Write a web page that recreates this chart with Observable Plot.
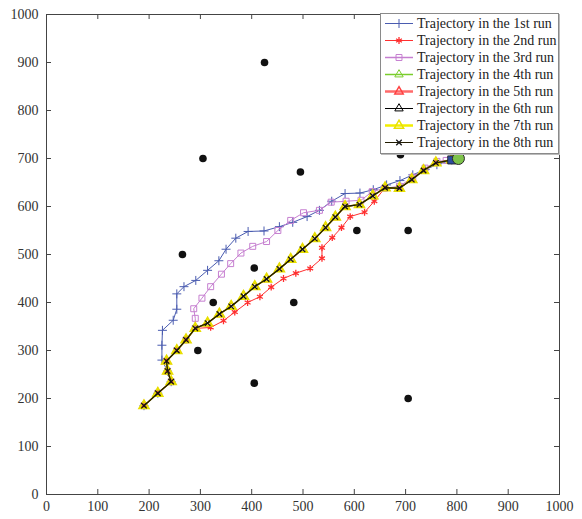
<!DOCTYPE html>
<html>
<head>
<meta charset="utf-8">
<script src="https://cdn.jsdelivr.net/npm/d3@7"></script>
<script src="https://cdn.jsdelivr.net/npm/@observablehq/plot@0.6"></script>
<style>
  html, body { margin: 0; padding: 0; background: #fff; }
  #wrap { position: relative; width: 582px; height: 519px; }
  #legend { position: absolute; left: 380px; top: 13px; width: 177px; background: #fff;
    border: 1px solid #8a8a8a; box-shadow: 1px 1px 0 #bbb; font-family: "Liberation Serif", "Times New Roman", "DejaVu Serif", serif;
    font-size: 14px; color: #222; padding: 1px 0 2px 0; }
  .row { display: flex; align-items: center; height: 17px; white-space: nowrap; }
  .row svg { margin-left: 3px; margin-right: 3px; flex: none; }
  svg.plot text { font-family: "Liberation Serif", "Times New Roman", "DejaVu Serif", serif; }
</style>
</head>
<body>
<div id="wrap"><div id="legend"></div></div>
<script>
// Axis ticks
const xTicks = [0, 100, 200, 300, 400, 500, 600, 700, 800, 900, 1000];
const yTicks = [0, 100, 200, 300, 400, 500, 600, 700, 800, 900, 1000];

// Obstacles
const obstacleX = [425, 305, 495, 690, 265, 605, 705, 405, 325, 482, 295, 405, 705];
const obstacleY = [900, 700, 672, 708, 500, 550, 550, 472, 400, 400, 300, 232, 200];

// Goal and end marker
const goalX = [803], goalY = [700];
const endX = [790], endY = [697];

// Trajectories
const run1X = [190,217,243,236,225,225,226,247,254,254,268,291,314,336,350,369,393,424,454,480,508,532,556,582,611,637,663,689,714,738,761,790];
const run1Y = [185,211,235,257,280,311,342,363,386,418,433,446,467,487,511,534,548,549,558,567,579,592,611,627,628,635,645,654,666,677,687,697];

const run2X = [190,217,243,236,234,254,272,290,320,345,367,392,416,438,462,486,514,537,537,557,575,592,620,639,660,688,712,735,759,790];
const run2Y = [185,211,235,257,278,300,322,346,348,362,380,400,412,432,450,461,471,492,514,535,556,579,588,611,639,638,656,675,691,697];

const run3X = [190,217,243,236,234,254,272,290,290,287,303,320,341,359,379,402,429,451,476,501,532,555,584,613,635,659,688,714,738,761,779,790];
const run3Y = [185,211,235,257,278,300,322,346,367,387,409,433,459,481,503,517,527,550,571,587,592,609,611,613,631,638,642,661,680,694,696,697];

const run4X = [190,217,243,236,234,254,272,290,314,337,360,384,406,429,454,476,499,523,544,563,582,610,636,660,688,712,735,759,790];
const run4Y = [185,211,235,257,278,300,322,346,357,376,392,413,433,449,470,490,511,533,556,578,600,604,622,639,638,656,675,691,697];
const run5X = [190,217,243,236,234,254,272,290,314,337,360,384,406,429,454,476,499,523,544,563,582,610,636,660,688,712,735,759,790];
const run5Y = [185,211,235,257,278,300,322,346,357,376,392,413,433,449,470,490,511,533,556,578,600,604,622,639,638,656,675,691,697];
const run6X = [190,217,243,236,234,254,272,290,314,337,360,384,406,429,454,476,499,523,544,563,582,610,636,660,688,712,735,759,790];
const run6Y = [185,211,235,257,278,300,322,346,357,376,392,413,433,449,470,490,511,533,556,578,600,604,622,639,638,656,675,691,697];
const run7X = [190,217,243,236,234,254,272,290,314,337,360,384,406,429,454,476,499,523,544,563,582,610,636,660,688,712,735,759,790];
const run7Y = [185,211,235,257,278,300,322,346,357,376,392,413,433,449,470,490,511,533,556,578,600,604,622,639,638,656,675,691,697];
const run8X = [190,217,243,236,234,254,272,290,314,337,360,384,406,429,454,476,499,523,544,563,582,610,636,660,688,712,735,759,790];
const run8Y = [185,211,235,257,278,300,322,346,357,376,392,413,433,449,470,490,511,533,556,578,600,604,622,639,638,656,675,691,697];

const runNames = ["Trajectory in the 1st run","Trajectory in the 2nd run","Trajectory in the 3rd run",
  "Trajectory in the 4th run","Trajectory in the 5th run","Trajectory in the 6th run",
  "Trajectory in the 7th run","Trajectory in the 8th run"];

const toPts = (xs, ys) => xs.map((x, i) => ({x, y: ys[i]}));
const runs = [
  {pts: toPts(run1X, run1Y), stroke: "#4a5cb0", lw: 1, symbol: "plus", r: 3.0, mstroke: "#4a5cb0", msw: 1, lgw: 1},
  {pts: toPts(run2X, run2Y), stroke: "#ff3030", lw: 1, symbol: "asterisk", r: 3.2, mstroke: "#ff3030", msw: 1.3, lgw: 1},
  {pts: toPts(run3X, run3Y), stroke: "#c67fd0", lw: 1, symbol: "square2", r: 3.8, mstroke: "#c67fd0", msw: 1, lgw: 1.5},
  {pts: toPts(run4X, run4Y), stroke: "#7acd2c", lw: 1, symbol: "triangle2", r: 4, mstroke: "#7acd2c", msw: 1, lgw: 1.5},
  {pts: toPts(run5X, run5Y), stroke: "#ff6a6a", lw: 1.2, symbol: "triangle2", r: 4, mstroke: "#ff4040", msw: 1.5, lgw: 2.5},
  {pts: toPts(run6X, run6Y), stroke: "#000", lw: 1, symbol: "triangle2", r: 4, mstroke: "#000", msw: 1, lgw: 1},
  {pts: toPts(run7X, run7Y), stroke: "#d8d000", lw: 1.5, symbol: "triangle2", r: 4.4, mstroke: "#e8e000", msw: 2, lgw: 2.5},
  {pts: toPts(run8X, run8Y), stroke: "#221c00", lw: 1.4, symbol: "times", r: 2.6, mstroke: "#111", msw: 1.2, lgw: 1}
];

const mL = 46, mR = 23, mT = 14, mB = 25;
const W = 582, H = 519;
const pw = W - mL - mR, ph = H - mT - mB;

const marks = [
  Plot.frame({stroke: "#444", strokeWidth: 1}),
  Plot.axisX({ticks: xTicks, tickSize: 0, tickPadding: 7, tickFormat: d => String(d), label: null}),
  Plot.axisY({ticks: yTicks, tickSize: 0, tickPadding: 8, tickFormat: d => String(d), label: null}),
  Plot.tickX(xTicks, {x: d => d, insetTop: ph - 5, stroke: "#444"}),
  Plot.tickX(xTicks, {x: d => d, insetBottom: ph - 5, stroke: "#444"}),
  Plot.tickY(yTicks, {y: d => d, insetRight: pw - 5, stroke: "#444"}),
  Plot.tickY(yTicks, {y: d => d, insetLeft: pw - 5, stroke: "#444"}),
  Plot.dot(toPts(obstacleX, obstacleY), {x: "x", y: "y", r: 3.8, fill: "#111"})
];
for (const rn of runs) {
  marks.push(Plot.line(rn.pts, {x: "x", y: "y", stroke: rn.stroke, strokeWidth: rn.lw}));
  marks.push(Plot.dot(rn.pts, {x: "x", y: "y", symbol: rn.symbol, r: rn.r, fill: "none", stroke: rn.mstroke, strokeWidth: rn.msw}));
}
marks.push(Plot.dot(toPts(endX, endY), {x: "x", y: "y", symbol: "square", r: 4.6, fill: "#2c4c9e", stroke: "#1a1a1a", strokeWidth: 0.8}));
marks.push(Plot.dot(toPts(goalX, goalY), {x: "x", y: "y", r: 6, fill: "#7dc24a", stroke: "#2a2a2a", strokeWidth: 1}));

const chart = Plot.plot({
  width: W, height: H,
  marginLeft: mL, marginRight: mR, marginTop: mT, marginBottom: mB,
  x: {domain: [0, 1000]},
  y: {domain: [0, 1000]},
  style: {fontFamily: "'Liberation Serif', 'Times New Roman', 'DejaVu Serif', serif", fontSize: "14px", color: "#333", background: "white"},
  marks
});
chart.classList.add("plot");
document.getElementById("wrap").prepend(chart);

// Legend
const legend = document.getElementById("legend");
const symMap = {plus: d3.symbolPlus, asterisk: d3.symbolAsterisk, square2: d3.symbolSquare2, triangle2: d3.symbolTriangle2, times: d3.symbolTimes};
runs.forEach((rn, i) => {
  const row = document.createElement("div");
  row.className = "row";
  const svg = d3.create("svg").attr("width", 30).attr("height", 17);
  svg.append("line").attr("x1", 1).attr("x2", 29).attr("y1", 8.5).attr("y2", 8.5)
    .attr("stroke", i === 6 ? "#f2ee00" : rn.stroke).attr("stroke-width", rn.lgw);
  const area = Math.PI * rn.r * rn.r;
  svg.append("path").attr("transform", "translate(15,8.5)")
    .attr("d", d3.symbol(symMap[rn.symbol], area)())
    .attr("fill", "none").attr("stroke", rn.mstroke).attr("stroke-width", i === 6 ? 1.5 : rn.msw);
  row.appendChild(svg.node());
  const t = document.createElement("span");
  t.textContent = runNames[i];
  row.appendChild(t);
  legend.appendChild(row);
});
</script>
</body>
</html>
